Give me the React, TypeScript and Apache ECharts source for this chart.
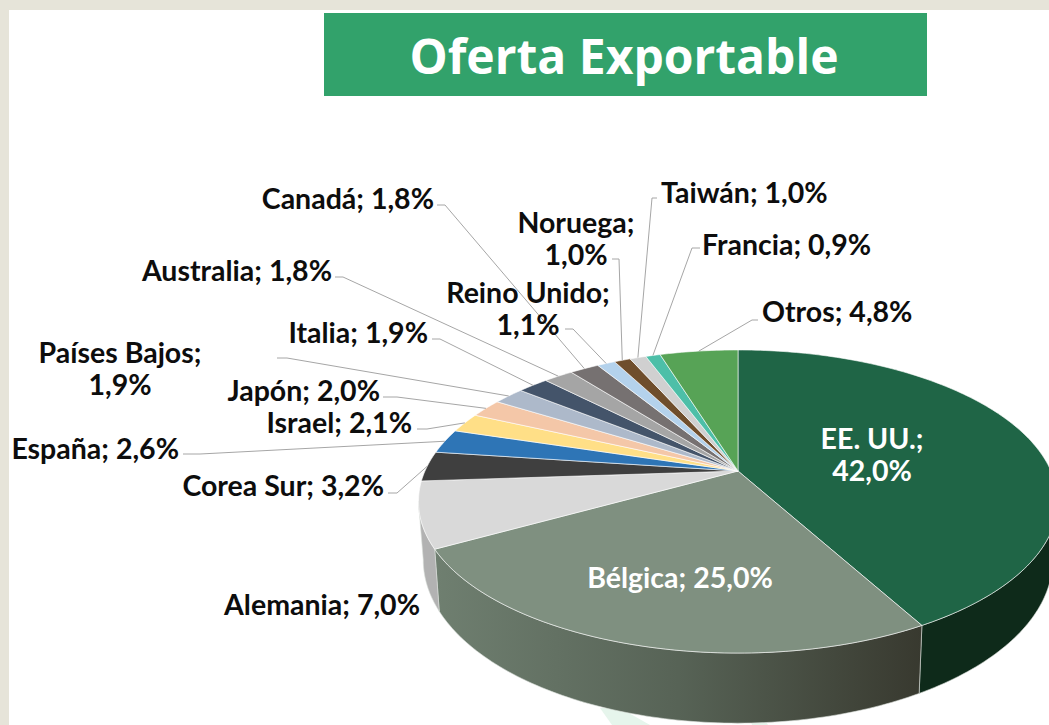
import React, { useEffect, useRef } from "react";
import * as echarts from "echarts";

const countries = ["EE. UU.", "Bélgica", "Alemania", "Corea Sur", "España", "Israel", "Japón", "Países Bajos", "Italia", "Australia", "Canadá", "Reino Unido", "Noruega", "Taiwán", "Francia", "Otros"];
const shares = [42.0, 25.0, 7.0, 3.2, 2.6, 2.1, 2.0, 1.9, 1.9, 1.8, 1.8, 1.1, 1.0, 1.0, 0.9, 4.8];
const titleText = "Oferta Exportable";

const topColors = ["#1f6546", "#7f9080", "#d9d9d9", "#3f3f3f", "#2e75b6", "#ffdf87", "#f4c7a8", "#adb9ca", "#44546a", "#a5a5a5", "#767171", "#b4d2ec", "#6f4e2c", "#d0d0d0", "#4dbfa8", "#57a356"];
const sideColors: any[] = [
  "#0e2a1a",
  { type: "linear", x: 0, y: 0, x2: 1, y2: 0, colorStops: [{ offset: 0, color: "#6f7f70" }, { offset: 0.5, color: "#576356" }, { offset: 1, color: "#38392f" }] },
  "#b2b2b2",
];

// Layout of the labels: anchor, alignment, line break, colour, leader start and elbow
const labelLayout: any[] = [
  { x: 872, y: 454, align: "center", wrap: true, fill: "#ffffff" },
  { x: 680, y: 577, align: "center", fill: "#ffffff" },
  { x: 420, y: 604, align: "right" },
  { x: 384, y: 485, align: "right", from: [388, 493], elbow: [397, 493] },
  { x: 179, y: 448, align: "right", from: [183, 454], elbow: [200, 454] },
  { x: 412, y: 422, align: "right", from: [417, 429], elbow: [427, 429] },
  { x: 380, y: 390, align: "right", from: [383, 397], elbow: [397, 397] },
  { x: 120, y: 368, align: "center", wrap: true, from: [277, 358], elbow: [287, 358] },
  { x: 428, y: 332, align: "right", from: [432, 339], elbow: [440, 339] },
  { x: 332, y: 270, align: "right", from: [335, 277], elbow: [343, 277] },
  { x: 434, y: 198, align: "right", from: [437, 205], elbow: [445, 205] },
  { x: 528, y: 308, align: "center", wrap: true, from: [565, 329], elbow: [573, 329] },
  { x: 576, y: 238, align: "center", wrap: true, from: [612, 259], elbow: [619, 259] },
  { x: 661, y: 192, align: "left", from: [657, 198], elbow: [652, 198] },
  { x: 702, y: 244, align: "left", from: [700, 248], elbow: [692, 248] },
  { x: 762, y: 311, align: "left", from: [758, 320], elbow: [752, 320] },
];

// Perspective disc
const CX = 738, CY = 471, C = 313, A = 145.4, B = 0.2013, DEPTH = 56, BOTTOM_X = 0.985;
const total = shares.reduce((a, b) => a + b, 0);
const starts: number[] = [];
shares.reduce((acc, v, i) => { starts[i] = acc; return acc + v; }, 0);
const toAngle = (cum: number) => (cum / total) * Math.PI * 2;
const rim = (t: number) => {
  const u = Math.sin(t), v = Math.cos(t), d = 1 + B * v;
  return [CX + (C * u) / d, CY - (A * v) / d];
};
const rimLow = (t: number) => {
  const p = rim(t), d = 1 + B * Math.cos(t);
  return [CX + (p[0] - CX) * BOTTOM_X, p[1] + DEPTH / d];
};
const arc = (a: number, b: number, f: (t: number) => number[]) => {
  const n = Math.max(2, Math.ceil(((b - a) / Math.PI) * 180));
  const pts: number[][] = [];
  for (let k = 0; k <= n; k++) pts.push(f(a + ((b - a) * k) / n));
  return pts;
};
const VIS_A = Math.PI - Math.asin(Math.sqrt(1 - B * B));
const VIS_B = Math.PI * 2 - VIS_A;

const fontFamily = "Lato";

export default function App() {
  const ref = useRef<HTMLDivElement>(null);
  useEffect(() => {
    const chart = echarts.init(ref.current!, undefined, { renderer: "svg" });
    const indexData = shares.map((v, i) => [i, v]);
    chart.setOption({
      animation: false,
      backgroundColor: "#e6e4d9",
      graphic: [
        { type: "rect", z: 0, shape: { x: 9, y: 10, width: 1040, height: 715 }, style: { fill: "#ffffff" } },
        { type: "polygon", z: 0, shape: { points: [[600, 708], [620, 708], [650, 725], [612, 725]] }, style: { fill: "#e6f5ec" } },
        { type: "polygon", z: 0, shape: { points: [[742, 700], [754, 700], [768, 725], [752, 725]] }, style: { fill: "#e6f5ec" } },
        { type: "rect", z: 1, shape: { x: 324, y: 13, width: 603, height: 83 }, style: { fill: "#32a26b" } },
        { type: "text", z: 2, x: 624, y: 55, style: { text: titleText, fill: "#ffffff", font: `700 48px "Open Sans"`, textAlign: "center", textVerticalAlign: "middle" } },
      ],
      series: [
        {
          type: "custom", coordinateSystem: "none", data: indexData, z: 3, silent: true,
          renderItem: (params: any) => {
            const i = params.dataIndex;
            const a = Math.max(toAngle(starts[i]), VIS_A);
            const b = Math.min(toAngle(starts[i] + shares[i]), VIS_B);
            if (b <= a) return { type: "group", children: [] };
            const upper = arc(a, b, rim);
            const lower = arc(a, b, rimLow).reverse();
            return { type: "polygon", shape: { points: upper.concat(lower) }, style: { fill: sideColors[i] || "#888888", stroke: "#d8ddd8", lineWidth: 0.6 } };
          },
        },
        {
          type: "custom", coordinateSystem: "none", data: indexData, z: 4, silent: true,
          renderItem: (params: any) => {
            const i = params.dataIndex;
            const a = toAngle(starts[i]);
            const b = toAngle(starts[i] + shares[i]);
            return { type: "polygon", shape: { points: [[CX, CY], ...arc(a, b, rim)] }, style: { fill: topColors[i], stroke: "#ffffff", lineWidth: 0.8, strokeOpacity: 0.75 } };
          },
        },
        {
          type: "custom", coordinateSystem: "none", data: indexData, z: 5, silent: true,
          renderItem: (params: any, api: any) => {
            const i = params.dataIndex;
            const L = labelLayout[i];
            const pct = api.value(1).toFixed(1).replace(".", ",") + "%";
            const children: any[] = [];
            if (L.from) {
              const mid = toAngle(starts[i] + shares[i] / 2);
              children.push({ type: "polyline", shape: { points: [L.from, L.elbow, rim(mid)] }, style: { fill: "none", stroke: "#a6a6a6", lineWidth: 1 } });
            }
            children.push({
              type: "text",
              style: {
                x: L.x, y: L.y, text: countries[i] + (L.wrap ? ";\n" : "; ") + pct,
                fill: L.fill || "#0d0d0d", font: `700 28.5px ${fontFamily}`, lineHeight: 32,
                textAlign: L.align, textVerticalAlign: "middle",
              },
            });
            return { type: "group", children };
          },
        },
      ],
    });
    return () => chart.dispose();
  }, []);
  return <div ref={ref} style={{ position: "fixed", left: 0, top: 0, width: 1049, height: 725 }} />;
}
